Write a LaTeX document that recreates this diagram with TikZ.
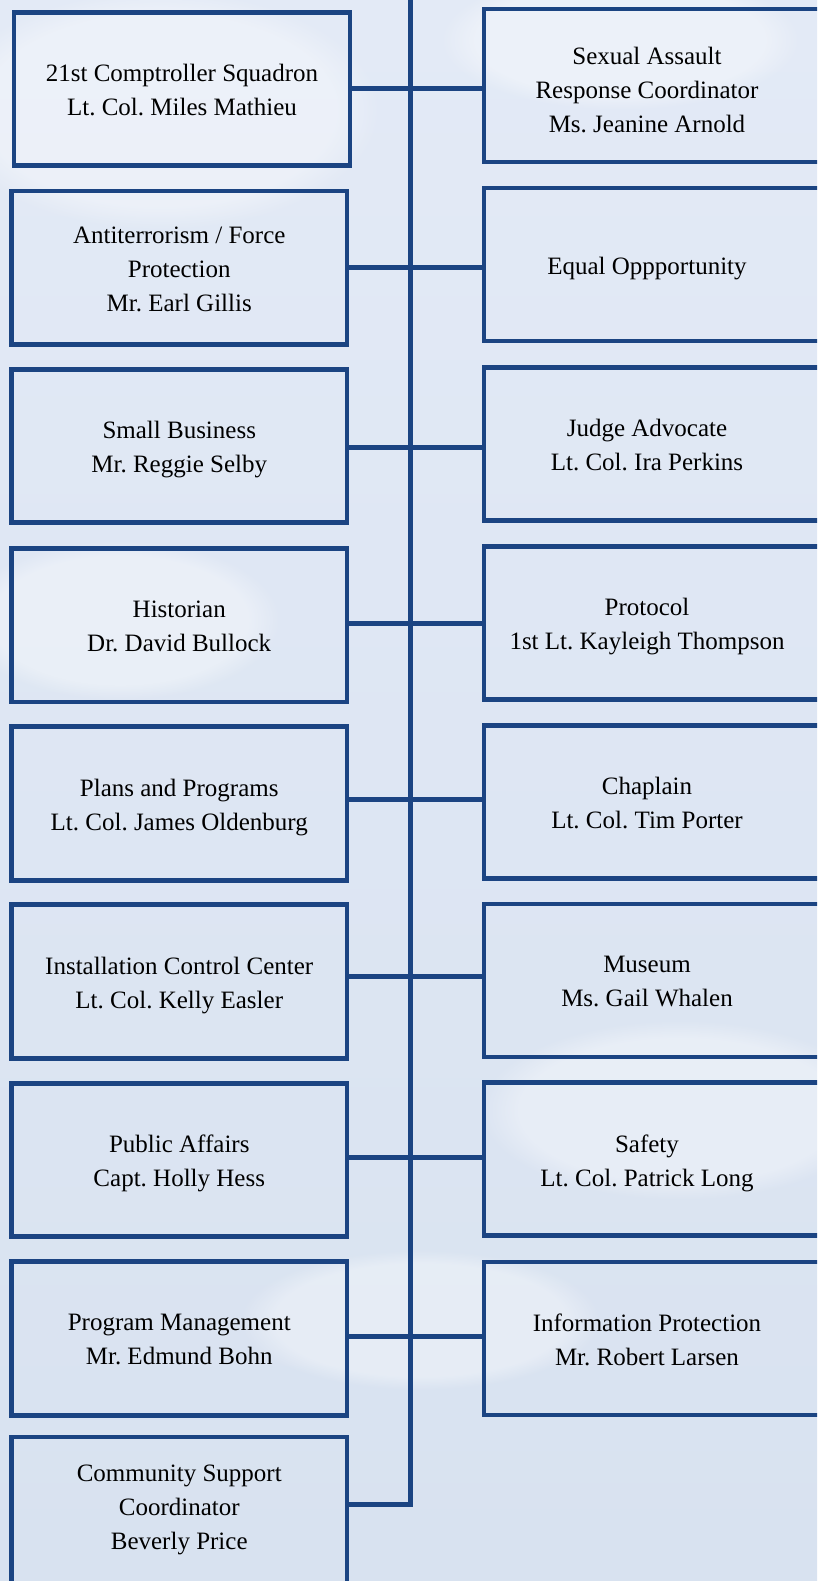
\documentclass[tikz,border=0pt]{standalone}
\usepackage{fontspec}
\setmainfont{Liberation Serif}
\frenchspacing
\usetikzlibrary{fadings}
\definecolor{navy}{HTML}{1B4482}
\definecolor{bgtop}{HTML}{E3EAF6}
\definecolor{bgmid}{HTML}{D2DBEE}
\definecolor{bgbot}{HTML}{D8E2F0}
\tikzset{
  boxline/.style={draw=navy, line width=4.8pt},
  lbox/.style={boxline, minimum width=335.5pt, minimum height=153.5pt, inner sep=0pt},
  rbox/.style={boxline, minimum width=346pt, minimum height=153pt, inner sep=0pt},
  txt/.style={align=center, font=\fontsize{25}{34}\selectfont, text=black, inner sep=0pt, text depth=0pt, yshift=-1pt},
  link/.style={draw=navy, line width=5pt, line join=miter},
  cloud/.style={fill=white, fill opacity=0.35, path fading=circle with fuzzy edge 20 percent},
}
\begin{document}
\begin{tikzpicture}[x=1pt,y=-1pt]
\useasboundingbox (0,0) rectangle (817,1581);
\clip (0,0) rectangle (817,1581);
\shade[top color=bgtop, middle color=bgmid, bottom color=bgbot] (0,0) rectangle (817,1581);
% soft clouds
\fill[cloud] (160,110) ellipse (220 and 120);
\fill[cloud] (680,1110) ellipse (200 and 90);
\fill[cloud] (420,1320) ellipse (180 and 70);
\fill[cloud] (620,40) ellipse (180 and 70);
\fill[cloud] (120,620) ellipse (160 and 80);

% left boxes
\node[lbox, minimum width=336pt, minimum height=153pt] (L1) at (182,89.3) {};
\node[lbox] (L2) at (179.25,267.75) {};
\node[lbox] (L3) at (179.25,446) {};
\node[lbox] (L4) at (179.25,625.2) {};
\node[lbox] (L5) at (179.25,803.5) {};
\node[lbox] (L6) at (179.25,981.5) {};
\node[lbox] (L7) at (179.25,1160) {};
\node[lbox] (L8) at (179.25,1338.5) {};
\node[lbox] (L9) at (179.25,1513.75) {};

% right boxes
\node[rbox] (R1) at (657,85.5) {};
\node[rbox] (R2) at (657,264.5) {};
\node[rbox] (R3) at (657,443.75) {};
\node[rbox] (R4) at (657,622.75) {};
\node[rbox] (R5) at (657,801.75) {};
\node[rbox] (R6) at (657,980.5) {};
\node[rbox] (R7) at (657,1159.25) {};
\node[rbox] (R8) at (657,1338.5) {};

% spine and junctions
\coordinate (top) at (410,-10);
\coordinate (j1) at (410,89);
\coordinate (j2) at (410,267.5);
\coordinate (j3) at (410,447.5);
\coordinate (j4) at (410,623.5);
\coordinate (j5) at (410,799);
\coordinate (j6) at (410,976);
\coordinate (j7) at (410,1157.5);
\coordinate (j8) at (410,1336);
\coordinate (j9) at (410,1504.5);

\draw[link] (top) -- (j9) -- (L9.east |- j9);
\foreach \i in {1,...,8}{
  \draw[link] (L\i.east |- j\i) -- (R\i.west |- j\i);
}

% texts
\node[txt] (tL1) at (L1.center) {21st Comptroller Squadron\\Lt. Col. Miles Mathieu};
\node[txt] (tL2) at (L2.center) {Antiterrorism / Force\\Protection\\Mr. Earl Gillis};
\node[txt] (tL3) at (L3.center) {Small Business\\Mr. Reggie Selby};
\node[txt] (tL4) at (L4.center) {Historian\\Dr. David Bullock};
\node[txt] (tL5) at (L5.center) {Plans and Programs\\Lt. Col. James Oldenburg};
\node[txt] (tL6) at (L6.center) {Installation Control Center\\Lt. Col. Kelly Easler};
\node[txt] (tL7) at (L7.center) {Public Affairs\\Capt. Holly Hess};
\node[txt] (tL8) at (L8.center) {Program Management\\Mr. Edmund Bohn};
\node[txt, yshift=8pt] (tL9) at (L9.center) {Community Support\\Coordinator\\Beverly Price};

\node[txt, xshift=-10pt, yshift=-3pt] (tR1) at (R1.center) {Sexual Assault\\Response Coordinator\\Ms. Jeanine Arnold};
\node[txt, xshift=-10pt] (tR2) at (R2.center) {Equal Oppportunity};
\node[txt, xshift=-10pt] (tR3) at (R3.center) {Judge Advocate\\Lt. Col. Ira Perkins};
\node[txt, xshift=-10pt] (tR4) at (R4.center) {Protocol\\1st Lt. Kayleigh Thompson};
\node[txt, xshift=-10pt] (tR5) at (R5.center) {Chaplain\\Lt. Col. Tim Porter};
\node[txt, xshift=-10pt] (tR6) at (R6.center) {Museum\\Ms. Gail Whalen};
\node[txt, xshift=-10pt] (tR7) at (R7.center) {Safety\\Lt. Col. Patrick Long};
\node[txt, xshift=-10pt] (tR8) at (R8.center) {Information Protection\\Mr. Robert Larsen};
\end{tikzpicture}
\end{document}
